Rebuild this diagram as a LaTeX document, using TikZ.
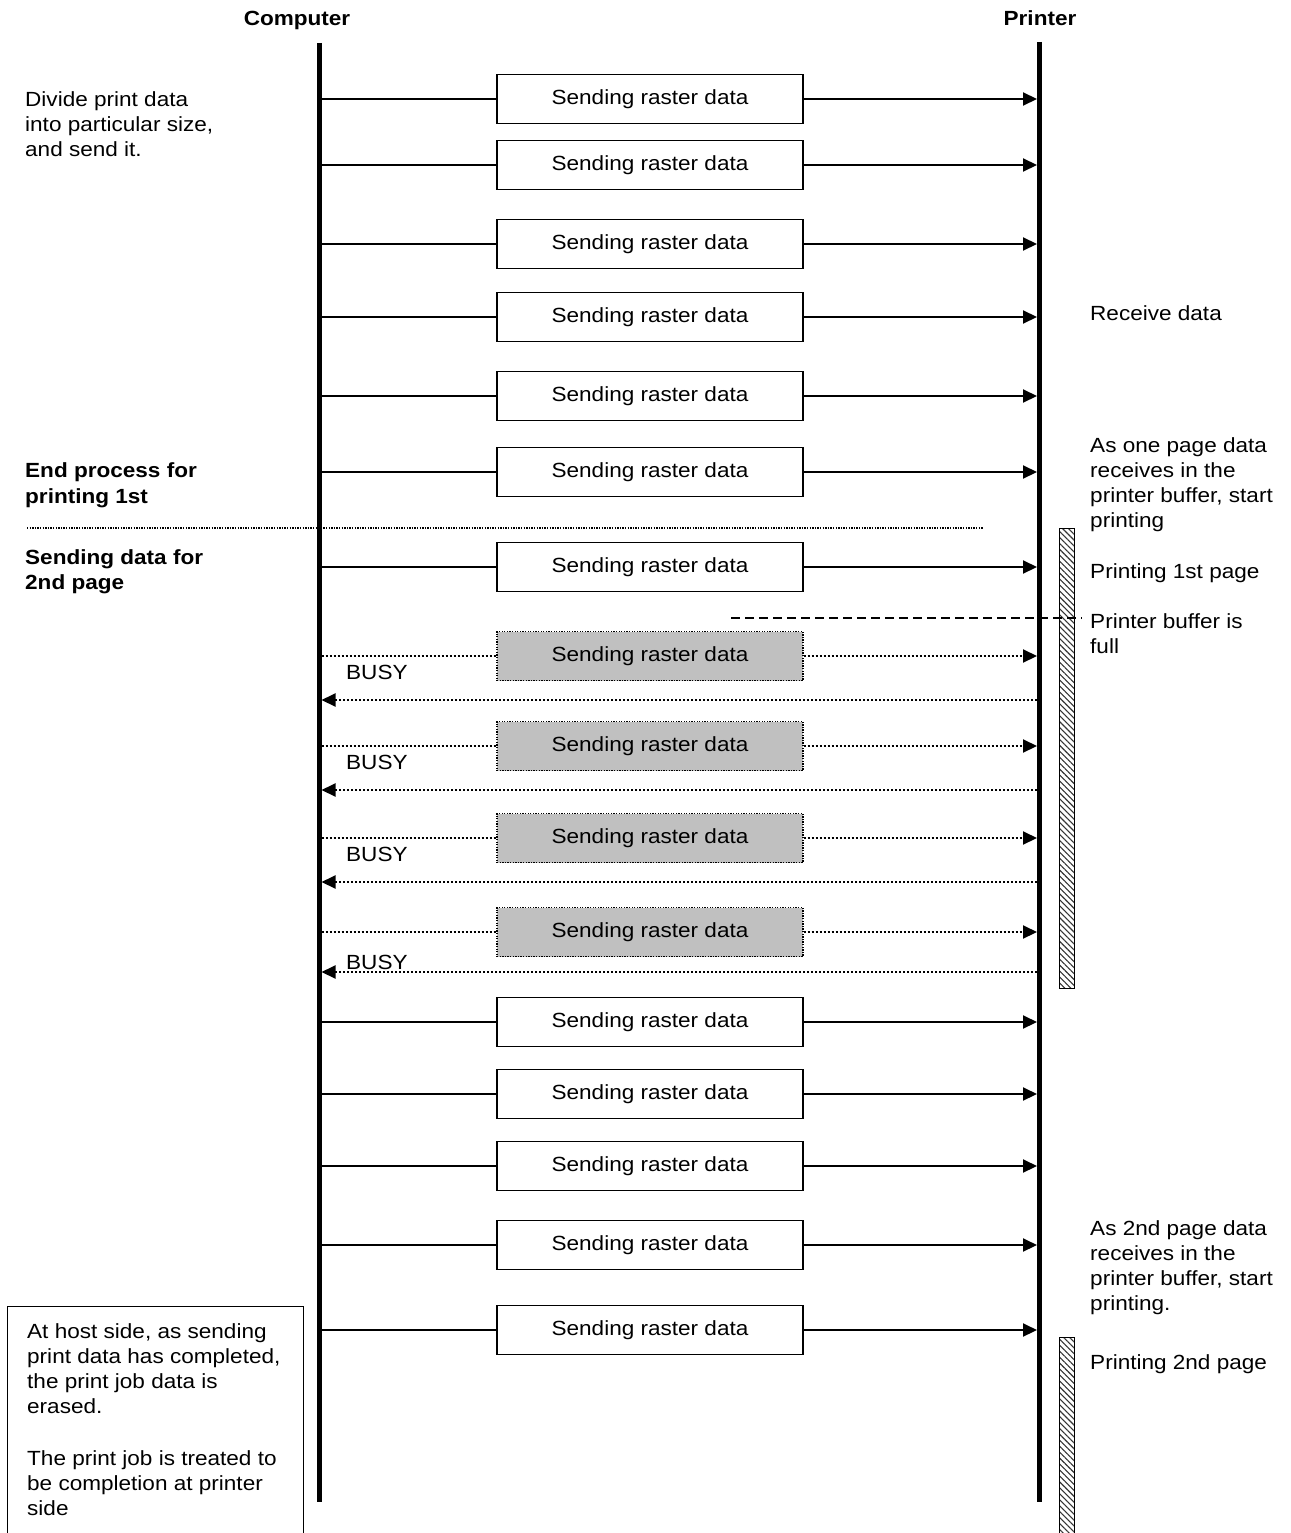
\documentclass[tikz,border=0pt]{standalone}
\usepackage{fontspec}
\setmainfont{Liberation Sans}[FakeStretch=1.1]
\usetikzlibrary{arrows.meta,patterns.meta}
\definecolor{boxgray}{HTML}{C0C0C0}
\newcommand\txtf[1]{\fontsize{20.5}{#1}\selectfont}
\begin{document}
\begin{tikzpicture}[x=1pt,y=-1pt,
  conn/.style={line width=2pt},
  arr/.style={-{Triangle[length=14pt,width=13pt]}},
  dotconn/.style={line width=2pt, dash pattern=on 2pt off 2pt},
  databox/.style={draw, line width=1.8pt, minimum width=306pt, minimum height=49pt, inner sep=0pt, font=\txtf{25}, fill=white},
  graybox/.style={databox, fill=boxgray, line width=1.3pt, dash pattern=on 1.3pt off 1.3pt},
  lbl/.style={anchor=base west, align=left, inner sep=0pt, font=\txtf{25}},
  hatchbar/.style={draw, line width=1.3pt, anchor=north west, minimum width=15pt, inner sep=0pt,
    pattern={Lines[angle=-45,distance=4.2pt,line width=1.1pt]}, pattern color=black!80},
  lifeline/.style={line width=5pt}]
\useasboundingbox (0,0) rectangle (1290,1533);

% headers
\node[anchor=base, inner sep=0pt, font=\bfseries\txtf{25}] (hcomp) at (297,26) {Computer};
\node[anchor=base, inner sep=0pt, font=\bfseries\txtf{25}] (hprint) at (1040,26) {Printer};

% separator
\coordinate (sepL) at (27,528);
\coordinate (sepR) at (983,528);
\draw[line width=1.1pt, dash pattern=on 1.3pt off 1.3pt] (sepL) -- (sepR);

% hatched bars
\node[hatchbar, minimum height=460pt] (bar1) at (1059,528) {};
\node[hatchbar, minimum height=220pt] (bar2) at (1059,1337) {};

% dashed buffer-full line
\coordinate (fullL) at (731,618);
\coordinate (fullR) at (1082,618);
\draw[line width=1.8pt, dash pattern=on 9pt off 5pt] (fullL) -- (fullR);

% lifelines
\coordinate (cTop) at (319,43);
\coordinate (cBot) at (319,1502);
\coordinate (pTop) at (1039.5,42);
\coordinate (pBot) at (1039.5,1502);
\draw[lifeline] (cTop) -- (cBot);
\draw[lifeline] (pTop) -- (pBot);

% normal rows
\foreach \i/\y in {1/99,2/165,3/244,4/317,5/396,6/472,7/567,12/1022,13/1094,14/1166,15/1245,16/1330}{
  \node[databox] (b\i) at (650,\y) {Sending raster data};
  \coordinate (cl\i) at (321.5,\y);
  \coordinate (pr\i) at (1037,\y);
  \draw[conn] (cl\i) -- (b\i.west);
  \draw[conn,arr] (b\i.east) -- (pr\i);
}

% busy rows
\foreach \i/\y/\r/\bl in {8/656/700/679,9/746/790/769,10/838/882/861,11/932/972/969}{
  \node[graybox] (b\i) at (650,\y) {Sending raster data};
  \coordinate (cl\i) at (321.5,\y);
  \coordinate (pr\i) at (1037,\y);
  \draw[dotconn] (cl\i) -- (b\i.west);
  \draw[dotconn,arr] (b\i.east) -- (pr\i);
  \coordinate (rs\i) at (1037,\r);
  \coordinate (re\i) at (321.5,\r);
  \draw[dotconn,arr] (rs\i) -- (re\i);
  \node[lbl] (busy\i) at (346,\bl) {BUSY};
}

% left texts (base anchor = last line baseline)
\node[lbl] (divide) at (25,157) {Divide print data\\into particular size,\\and send it.};
\node[lbl, font=\bfseries\txtf{26}] (endp) at (25,503) {End process for\\printing 1st};
\node[lbl, font=\bfseries\txtf{25}] (send2) at (25,589) {Sending data for\\2nd page};

% right texts
\node[lbl] (recv) at (1090,320) {Receive data};
\node[lbl] (onepage) at (1090,527) {As one page data\\receives in the\\printer buffer, start\\printing};
\node[lbl] (print1) at (1090,578) {Printing 1st page};
\node[lbl] (bfull) at (1090,653) {Printer buffer is\\full};
\node[lbl] (twopage) at (1090,1310) {As 2nd page data\\receives in the\\printer buffer, start\\printing.};
\node[lbl] (print2) at (1090,1369) {Printing 2nd page};

% host box
\node[draw, line width=1.3pt, anchor=north west, minimum width=296pt, minimum height=260pt, inner sep=0pt] (hostbox) at (7,1306) {};
\node[lbl] (hosttext) at (27,1515) {At host side, as sending\\print data has completed,\\the print job data is\\erased.\\[27pt]The print job is treated to\\be completion at printer\\side};
\end{tikzpicture}
\end{document}
